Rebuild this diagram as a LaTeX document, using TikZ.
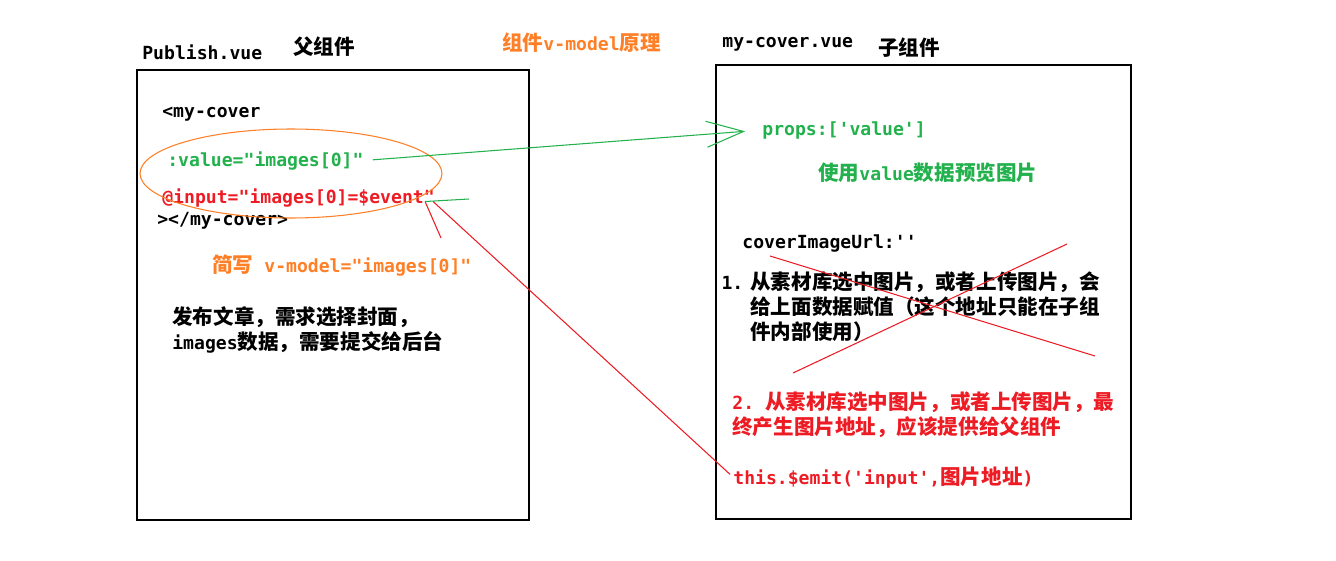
\documentclass[tikz,border=0pt]{standalone}
\usepackage{fontspec}
\setmonofont{DejaVu Sans Mono}
\newfontfamily\cjk{Noto Sans CJK SC}
\usetikzlibrary{arrows.meta,calc}

\definecolor{codegreen}{RGB}{34,177,76}
\definecolor{codered}{RGB}{237,28,36}
\definecolor{codeorange}{RGB}{255,127,39}

\newcommand{\zh}[1]{{\cjk\fontsize{11.7pt}{14.2pt}\selectfont #1}}

\tikzset{
  code/.style={anchor=base west, inner sep=0pt, font=\ttfamily\bfseries\fontsize{10.3pt}{14.2pt}\selectfont},
  box/.style={draw=black, line width=0.6pt},
  greenlink/.style={draw=codegreen, line width=0.6pt},
  redlink/.style={draw=codered, line width=0.6pt}
}

\begin{document}
\begin{tikzpicture}[x=0.02cm, y=-0.02cm]
\useasboundingbox (0,0) rectangle (1336,561);

% Component boxes
\draw[box] (137,70) rectangle (529,520);
\draw[box] (716,65) rectangle (1131,519);

% Headers
\node[code] (publish) at (142,59) {Publish.vue};
\node[code] (parent) at (293,54) {\zh{父组件}};
\node[code, text=codeorange] (title) at (502,51) {\zh{组件}v-model\zh{原理}};
\node[code] (cover) at (722,48) {my-cover.vue};
\node[code] (child) at (878,55) {\zh{子组件}};

% Parent component (Publish.vue)
\node[code] (open) at (162,117) {<my-cover};
\node[code, text=codegreen] (value) at (167,166) {:value="images[0]"};
\node[code, text=codered] (input) at (162,203) {@input="images[0]=\$event"};
\node[code] (close) at (157,225) {></my-cover>};
\node[code, text=codeorange] (shorthand) at (212,272) {\zh{简写} v-model="images[0]"};
\node[code, align=left] (task) at (172,349) {\zh{发布文章，需求选择封面，}\\images\zh{数据，需要提交给后台}};
\draw[codeorange, line width=0.6pt] (291,173.5) ellipse [x radius=3.02cm, y radius=0.89cm];

% Child component (my-cover.vue)
\node[code, text=codegreen] (props) at (762,135) {props:['value']};
\node[code, text=codegreen] (preview) at (818,180) {\zh{使用}value\zh{数据预览图片}};
\node[code] (url) at (742,248) {coverImageUrl:''};
\node[code, align=left] (stepone) at (750,339) {\llap{1.\hspace{4pt}}\zh{从素材库选中图片，或者上传图片，会}\\\zh{给上面数据赋值（这个地址只能在子组}\\\zh{件内部使用）}};
\node[code, align=left, text=codered] (steptwo) at (732,434) {2. \zh{从素材库选中图片，或者上传图片，最}\\\zh{终产生图片地址，应该提供给父组件}};
\node[code, text=codered] (emit) at (733,484) {this.\$emit('input',\zh{图片地址})};

% Crossed out
\draw[redlink] (770,256) -- (1095,356);
\draw[redlink] (1067,244) -- (793,373);

% Connectors
\coordinate (greenend) at (469,199);
\coordinate (redend) at (441,238);
\draw[greenlink, -{Straight Barb[length=0.74cm, width=0.52cm]}, shorten <=0.18cm, shorten >=0.34cm] (value.east) -- (props.west);
\draw[greenlink] ($(input.east)+(-10,4)$) -- (greenend);
\draw[redlink] ($(input.east)+(-10,4)$) -- (redend);
\draw[redlink, shorten >=0.08cm] ($(input.east)+(-2,4)$) -- (emit.west);

\end{tikzpicture}
\end{document}
